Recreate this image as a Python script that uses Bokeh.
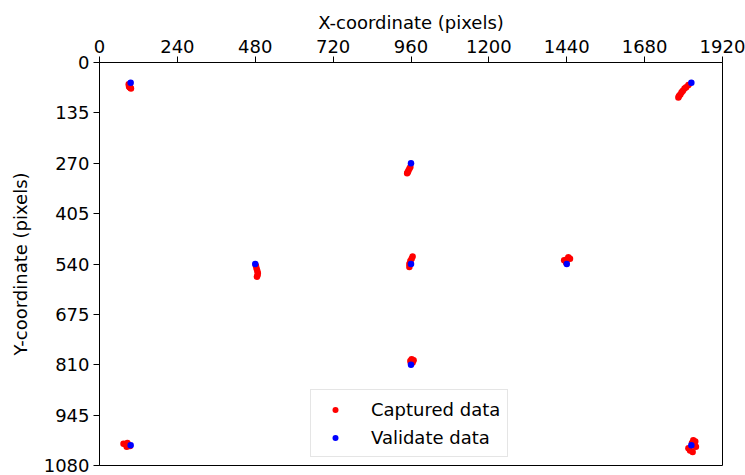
from bokeh.plotting import figure
from bokeh.models import Range1d, FixedTicker, Legend, LegendItem
from bokeh.embed import file_html
from bokeh.resources import INLINE

# Captured (red) gaze samples
cap_x = [90, 92, 93, 95, 97, 91,
         1815, 1808, 1803, 1798, 1794, 1790, 1786, 1784,
         958, 955, 952, 950, 948,
         482, 484, 486, 488, 487, 485,
         965, 962, 958, 955, 955,
         1445, 1450, 1440, 1432, 1438,
         962, 968, 958, 965, 960,
         74, 80, 86, 90, 84, 94,
         1830, 1836, 1826, 1838, 1815, 1820, 1828]
cap_y = [58, 62, 66, 68, 70, 64,
         60, 66, 70, 76, 80, 86, 90, 94,
         280, 285, 290, 294, 297,
         545, 552, 558, 564, 570, 574,
         520, 526, 532, 540, 548,
         522, 526, 528, 530, 536,
         795, 798, 800, 804, 806,
         1022, 1024, 1020, 1026, 1030, 1028,
         1012, 1016, 1020, 1030, 1034, 1040, 1044]

# Validation targets (blue)
val_x = [96, 1824, 960, 480, 960, 1440, 960, 96, 1824]
val_y = [54, 54, 270, 540, 540, 540, 810, 1026, 1026]

x_ticks = [0, 240, 480, 720, 960, 1200, 1440, 1680, 1920]
y_ticks = [0, 135, 270, 405, 540, 675, 810, 945, 1080]

FONT = "DejaVu Sans"
FS = "18px"

p = figure(width=745, height=475, output_backend="svg", toolbar_location=None,
           x_range=Range1d(0, 1920), y_range=Range1d(1080, 0),
           x_axis_location="above",
           min_border_left=99, min_border_right=23, min_border_top=62, min_border_bottom=10)
p.xgrid.visible = False
p.ygrid.visible = False
p.outline_line_color = "black"
p.outline_line_alpha = 1.0
p.outline_line_width = 1

p.xaxis.ticker = FixedTicker(ticks=x_ticks)
p.yaxis.ticker = FixedTicker(ticks=y_ticks)
p.xaxis.axis_label = "X-coordinate (pixels)"
p.yaxis.axis_label = "Y-coordinate (pixels)"
for ax in (p.xaxis, p.yaxis):
    ax.axis_label_text_font = FONT
    ax.axis_label_text_font_size = FS
    ax.axis_label_text_font_style = "normal"
    ax.axis_label_text_color = "black"
    ax.major_label_text_font = FONT
    ax.major_label_text_font_size = FS
    ax.major_label_text_color = "black"
    ax.major_tick_out = 6
    ax.major_tick_in = 0
    ax.minor_tick_out = 0
    ax.minor_tick_in = 0
    ax.axis_line_color = "black"
    ax.major_tick_line_color = "black"
    ax.major_label_standoff = 4
p.xaxis.axis_label_standoff = 4
p.yaxis.axis_label_standoff = 10

r1 = p.scatter(cap_x, cap_y, size=6.5, color="red", line_color=None)
r2 = p.scatter(val_x, val_y, size=6.5, color="blue", line_color=None)

legend = Legend(items=[LegendItem(label="Captured data", renderers=[r1]),
                       LegendItem(label="Validate data", renderers=[r2])],
                location=(211, 8))
legend.label_text_font = FONT
legend.label_text_font_size = FS
legend.label_text_color = "black"
legend.glyph_width = 34
legend.glyph_height = 15
legend.label_height = 24
legend.label_standoff = 19
legend.spacing = 4
legend.padding = 7
legend.margin = 0
legend.border_line_color = "#cccccc"
legend.border_line_width = 1
legend.background_fill_alpha = 0.8
p.add_layout(legend, "center")

open("out.html", "w").write(file_html(p, INLINE))
